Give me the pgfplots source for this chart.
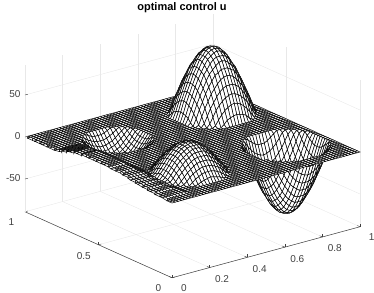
\documentclass[border=0pt]{standalone}
\usepackage{pgfplots}
\pgfplotsset{compat=1.18}
\usepackage{fontspec}
\setmainfont{Liberation Sans}
\definecolor{axg}{gray}{0.25}
\begin{document}
\begin{tikzpicture}
\useasboundingbox (-172bp,-90bp) rectangle (202bp,203bp);
\begin{axis}[at={(0bp,0bp)},anchor=origin,
  x={(188bp,51bp)},y={(-147bp,66bp)},z={(0bp,0.84bp)},
  xmin=0,xmax=1,ymin=0,ymax=1,zmin=-89,zmax=86,
  xtick={0,0.2,0.4,0.6,0.8,1},ytick={0,0.5,1},ztick={-50,0,50},
  axis x line*=bottom,axis y line*=left,axis z line*=left,
  clip=false,
  grid=major,
  grid style={line width=0.4pt,gray!18},
  axis line style={line width=0.5pt,axg},
  tick style={line width=0.4pt,axg},
  major tick length=3bp,
  tick label style={font=\fontsize{10bp}{12bp}\selectfont,text=axg,/pgf/number format/assume math mode=true},
  x tick label style={xshift=7bp,yshift=-3bp},
  y tick label style={xshift=-8bp,yshift=-3bp},
  z tick label style={xshift=-1bp},
  colormap={bw}{color=(white) color=(white)},
]
\addplot3[surf,shader=faceted,faceted color=black,line width=0.5pt,mesh/rows=61,mesh/cols=61,mesh/check=false,z buffer=reverse xy seq,skip coords between index={3721}{3800}]
 table[row sep=\\,header=false,x expr={mod(\coordindex,61)/60},y expr={floor(\coordindex/61)/60},z index=0]{
0\\0\\0\\0\\0\\0\\0\\0\\0\\0\\0\\0\\0\\0\\0\\0\\0\\0\\0\\0\\0\\0\\0\\0\\0\\0\\0\\0\\0\\0\\0\\0\\0\\0\\0\\0\\0\\0\\0\\0\\0\\0\\0\\0\\0\\0\\0\\0\\0\\0\\0\\0\\0\\0\\0\\0\\0\\0\\0\\0\\0\\
0\\0\\0\\0\\0\\0\\0\\0\\0\\0\\0\\0\\0\\0\\0\\0\\0\\0\\0\\0\\0\\0\\0\\0\\0\\0\\0\\0\\0\\0\\0\\0\\0\\0\\0\\0\\0\\0\\0\\0\\0\\0\\0\\0\\0\\0\\0\\0\\0\\0\\0\\0\\0\\0\\0\\0\\0\\0\\0\\0\\0\\
0\\0\\0\\0\\0\\0\\0\\0\\0\\0\\0\\0\\0\\0\\0\\0\\0\\0\\0\\0\\0\\0\\0\\0\\0\\0\\0\\0\\0\\0\\0\\0\\0\\0\\0\\0\\0\\0\\0\\0\\0\\0\\0\\0\\0\\0\\0\\0\\0\\0\\0\\0\\0\\0\\0\\0\\0\\0\\0\\0\\0\\
0\\0\\0\\0\\0\\0\\0\\0\\0\\0\\0\\0\\0\\0\\0\\0\\0\\0\\0\\0\\0\\0\\0\\0\\0\\0\\0\\0\\0\\0\\0\\0\\0\\0\\0\\0\\0\\0\\0\\0\\0\\0\\0\\0\\0\\0\\0\\0\\0\\0\\0\\0\\0\\0\\0\\0\\0\\0\\0\\0\\0\\
1\\1\\1\\1\\1\\1\\1\\1\\0\\0\\0\\0\\0\\0\\0\\0\\0\\0\\0\\0\\0\\0\\0\\0\\0\\0\\0\\0\\0\\0\\0\\0\\0\\0\\0\\0\\0\\0\\0\\0\\0\\0\\0\\0\\0\\0\\0\\0\\0\\0\\0\\0\\0\\0\\0\\0\\0\\0\\0\\0\\0\\
1\\1\\1\\1\\1\\1\\1\\1\\0\\0\\0\\0\\0\\0\\0\\0\\0\\0\\0\\0\\0\\0\\0\\0\\0\\0\\0\\0\\0\\0\\0\\0\\0\\0\\0\\0\\0\\0\\0\\0\\0\\0\\0\\0\\-3\\-6\\-9\\-11\\-11\\-11\\-9\\-6\\-3\\0\\0\\0\\0\\0\\0\\0\\0\\
1\\1\\1\\1\\1\\1\\1\\1\\0\\0\\0\\0\\0\\1\\3\\4\\5\\6\\5\\4\\3\\1\\0\\0\\0\\0\\0\\0\\0\\0\\0\\0\\0\\0\\0\\0\\0\\0\\0\\0\\0\\0\\-2\\-8\\-13\\-17\\-20\\-22\\-23\\-22\\-20\\-17\\-13\\-8\\-2\\0\\0\\0\\0\\0\\0\\
1\\1\\1\\1\\1\\1\\1\\1\\0\\0\\0\\0\\3\\6\\8\\10\\11\\11\\11\\10\\8\\6\\3\\0\\0\\0\\0\\0\\0\\0\\0\\0\\0\\0\\0\\0\\0\\0\\0\\0\\0\\-4\\-11\\-18\\-23\\-28\\-31\\-33\\-33\\-33\\-31\\-28\\-23\\-18\\-11\\-4\\0\\0\\0\\0\\0\\
2\\2\\2\\2\\2\\2\\2\\1\\0\\0\\1\\4\\8\\11\\13\\15\\16\\16\\16\\15\\13\\11\\8\\4\\1\\0\\0\\0\\0\\0\\0\\0\\0\\0\\0\\0\\0\\0\\0\\0\\-4\\-12\\-20\\-27\\-33\\-37\\-40\\-43\\-43\\-43\\-40\\-37\\-33\\-27\\-20\\-12\\-4\\0\\0\\0\\0\\
2\\2\\2\\2\\2\\2\\2\\1\\0\\0\\4\\8\\12\\15\\18\\20\\21\\21\\21\\20\\18\\15\\12\\8\\4\\0\\0\\0\\0\\0\\0\\0\\0\\0\\0\\0\\0\\0\\0\\-2\\-11\\-20\\-28\\-35\\-41\\-46\\-50\\-52\\-52\\-52\\-50\\-46\\-41\\-35\\-28\\-20\\-11\\-2\\0\\0\\0\\
2\\2\\2\\2\\2\\2\\2\\1\\0\\3\\8\\12\\16\\19\\22\\24\\25\\25\\25\\24\\22\\19\\16\\12\\8\\3\\0\\0\\0\\0\\0\\0\\0\\0\\0\\0\\0\\0\\0\\-8\\-18\\-27\\-35\\-43\\-49\\-54\\-57\\-60\\-60\\-60\\-57\\-54\\-49\\-43\\-35\\-27\\-18\\-8\\0\\0\\0\\
3\\3\\3\\3\\3\\3\\2\\2\\2\\6\\11\\15\\19\\23\\25\\28\\29\\29\\29\\28\\25\\23\\19\\15\\11\\6\\1\\0\\0\\0\\0\\0\\0\\0\\0\\0\\0\\0\\-3\\-13\\-23\\-33\\-41\\-49\\-55\\-60\\-64\\-67\\-67\\-67\\-64\\-60\\-55\\-49\\-41\\-33\\-23\\-13\\-3\\0\\0\\
3\\3\\3\\3\\3\\3\\2\\2\\4\\8\\13\\18\\22\\25\\28\\30\\32\\32\\32\\30\\28\\25\\22\\18\\13\\8\\3\\0\\0\\0\\0\\0\\0\\0\\0\\0\\0\\0\\-6\\-17\\-28\\-37\\-46\\-54\\-60\\-66\\-70\\-72\\-73\\-72\\-70\\-66\\-60\\-54\\-46\\-37\\-28\\-17\\-6\\0\\0\\
3\\3\\3\\3\\3\\3\\2\\2\\5\\10\\15\\20\\24\\28\\30\\33\\34\\34\\34\\33\\30\\28\\24\\20\\15\\10\\4\\0\\0\\0\\0\\0\\0\\0\\0\\0\\0\\0\\-9\\-20\\-31\\-40\\-50\\-57\\-64\\-70\\-74\\-76\\-77\\-76\\-74\\-70\\-64\\-57\\-50\\-40\\-31\\-20\\-9\\0\\0\\
4\\4\\4\\4\\4\\4\\3\\2\\6\\11\\16\\21\\25\\29\\32\\34\\35\\36\\35\\34\\32\\29\\25\\21\\16\\11\\5\\0\\0\\0\\0\\0\\0\\0\\0\\0\\0\\0\\-11\\-22\\-33\\-43\\-52\\-60\\-67\\-72\\-76\\-78\\-79\\-78\\-76\\-72\\-67\\-60\\-52\\-43\\-33\\-22\\-11\\0\\0\\
4\\4\\4\\4\\4\\4\\3\\2\\7\\11\\16\\21\\25\\29\\32\\34\\36\\36\\36\\34\\32\\29\\25\\21\\16\\11\\6\\0\\0\\0\\0\\0\\0\\0\\0\\0\\0\\0\\-11\\-23\\-33\\-43\\-52\\-60\\-67\\-73\\-77\\-79\\-80\\-79\\-77\\-73\\-67\\-60\\-52\\-43\\-33\\-23\\-11\\0\\0\\
5\\5\\5\\5\\5\\5\\4\\3\\6\\11\\16\\21\\25\\29\\32\\34\\35\\36\\35\\34\\32\\29\\25\\21\\16\\11\\5\\0\\0\\0\\0\\0\\0\\0\\0\\0\\0\\0\\-11\\-22\\-33\\-43\\-52\\-60\\-67\\-72\\-76\\-78\\-79\\-78\\-76\\-72\\-67\\-60\\-52\\-43\\-33\\-22\\-11\\0\\0\\
5\\5\\5\\5\\5\\5\\4\\3\\5\\10\\15\\20\\24\\28\\30\\33\\34\\34\\34\\33\\30\\28\\24\\20\\15\\10\\4\\0\\0\\0\\0\\0\\0\\0\\0\\0\\0\\0\\-9\\-20\\-31\\-40\\-50\\-57\\-64\\-70\\-74\\-76\\-77\\-76\\-74\\-70\\-64\\-57\\-50\\-40\\-31\\-20\\-9\\0\\0\\
6\\6\\6\\6\\6\\6\\5\\3\\4\\8\\13\\18\\22\\25\\28\\30\\32\\32\\32\\30\\28\\25\\22\\18\\13\\8\\3\\0\\0\\0\\0\\0\\0\\0\\0\\0\\0\\0\\-6\\-17\\-28\\-37\\-46\\-54\\-60\\-66\\-70\\-72\\-73\\-72\\-70\\-66\\-60\\-54\\-46\\-37\\-28\\-17\\-6\\0\\0\\
7\\7\\7\\7\\7\\7\\6\\4\\2\\6\\11\\15\\19\\23\\25\\28\\29\\29\\29\\28\\25\\23\\19\\15\\11\\6\\1\\0\\0\\0\\0\\0\\0\\0\\0\\0\\0\\0\\-3\\-13\\-23\\-33\\-41\\-49\\-55\\-60\\-64\\-67\\-67\\-67\\-64\\-60\\-55\\-49\\-41\\-33\\-23\\-13\\-3\\0\\0\\
7\\7\\7\\7\\7\\7\\6\\4\\1\\3\\8\\12\\16\\19\\22\\24\\25\\25\\25\\24\\22\\19\\16\\12\\8\\3\\0\\0\\0\\0\\0\\0\\0\\0\\0\\0\\0\\0\\0\\-8\\-18\\-27\\-35\\-43\\-49\\-54\\-57\\-60\\-60\\-60\\-57\\-54\\-49\\-43\\-35\\-27\\-18\\-8\\0\\0\\0\\
7\\7\\7\\7\\7\\7\\6\\4\\1\\0\\4\\8\\12\\15\\18\\20\\21\\21\\21\\20\\18\\15\\12\\8\\4\\0\\0\\0\\0\\0\\0\\0\\0\\0\\0\\0\\0\\0\\0\\-2\\-11\\-20\\-28\\-35\\-41\\-46\\-50\\-52\\-52\\-52\\-50\\-46\\-41\\-35\\-28\\-20\\-11\\-2\\0\\0\\0\\
8\\8\\8\\8\\8\\8\\6\\4\\2\\0\\1\\4\\8\\11\\13\\15\\16\\16\\16\\15\\13\\11\\8\\4\\1\\0\\0\\0\\0\\0\\0\\0\\0\\0\\0\\0\\0\\0\\0\\0\\-4\\-12\\-20\\-27\\-33\\-37\\-40\\-43\\-43\\-43\\-40\\-37\\-33\\-27\\-20\\-12\\-4\\0\\0\\0\\0\\
8\\8\\8\\8\\8\\8\\6\\4\\2\\0\\0\\0\\3\\6\\8\\10\\11\\11\\11\\10\\8\\6\\3\\0\\0\\0\\0\\0\\0\\0\\0\\0\\0\\0\\0\\0\\0\\0\\0\\0\\0\\-4\\-11\\-18\\-23\\-28\\-31\\-33\\-33\\-33\\-31\\-28\\-23\\-18\\-11\\-4\\0\\0\\0\\0\\0\\
8\\8\\8\\8\\8\\8\\6\\4\\2\\0\\0\\0\\0\\1\\3\\4\\5\\6\\5\\4\\3\\1\\0\\0\\0\\0\\0\\0\\0\\0\\0\\0\\0\\0\\0\\0\\0\\0\\0\\0\\0\\0\\-2\\-8\\-13\\-17\\-20\\-22\\-23\\-22\\-20\\-17\\-13\\-8\\-2\\0\\0\\0\\0\\0\\0\\
8\\8\\8\\8\\8\\8\\6\\4\\2\\0\\0\\0\\0\\0\\0\\0\\0\\0\\0\\0\\0\\0\\0\\0\\0\\0\\0\\0\\0\\0\\0\\0\\0\\0\\0\\0\\0\\0\\0\\0\\0\\0\\0\\0\\-3\\-6\\-9\\-11\\-11\\-11\\-9\\-6\\-3\\0\\0\\0\\0\\0\\0\\0\\0\\
9\\9\\9\\9\\9\\9\\7\\5\\2\\0\\0\\0\\0\\0\\0\\0\\0\\0\\0\\0\\0\\0\\0\\0\\0\\0\\0\\0\\0\\0\\0\\0\\0\\0\\0\\0\\0\\0\\0\\0\\0\\0\\0\\0\\0\\0\\0\\0\\0\\0\\0\\0\\0\\0\\0\\0\\0\\0\\0\\0\\0\\
9\\9\\9\\9\\9\\9\\7\\5\\2\\0\\0\\0\\0\\0\\0\\0\\0\\0\\0\\0\\0\\0\\0\\0\\0\\0\\0\\0\\0\\0\\0\\0\\0\\0\\0\\0\\0\\0\\0\\0\\0\\0\\0\\0\\0\\0\\0\\0\\0\\0\\0\\0\\0\\0\\0\\0\\0\\0\\0\\0\\0\\
9\\9\\9\\9\\9\\9\\7\\5\\2\\0\\0\\0\\0\\0\\0\\0\\0\\0\\0\\0\\0\\0\\0\\0\\0\\0\\0\\0\\0\\0\\0\\0\\0\\0\\0\\0\\0\\0\\0\\0\\0\\0\\0\\0\\0\\0\\0\\0\\0\\0\\0\\0\\0\\0\\0\\0\\0\\0\\0\\0\\0\\
9\\9\\9\\9\\9\\9\\7\\5\\2\\0\\0\\0\\0\\0\\0\\0\\0\\0\\0\\0\\0\\0\\0\\0\\0\\0\\0\\0\\0\\0\\0\\0\\0\\0\\0\\0\\0\\0\\0\\0\\0\\0\\0\\0\\0\\0\\0\\0\\0\\0\\0\\0\\0\\0\\0\\0\\0\\0\\0\\0\\0\\
9\\9\\9\\9\\9\\9\\7\\5\\2\\0\\0\\0\\0\\0\\0\\0\\0\\0\\0\\0\\0\\0\\0\\0\\0\\0\\0\\0\\0\\0\\0\\0\\0\\0\\0\\0\\0\\0\\0\\0\\0\\0\\0\\0\\0\\0\\0\\0\\0\\0\\0\\0\\0\\0\\0\\0\\0\\0\\0\\0\\0\\
9\\9\\9\\9\\9\\9\\7\\5\\2\\0\\0\\0\\0\\0\\0\\0\\0\\0\\0\\0\\0\\0\\0\\0\\0\\0\\0\\0\\0\\0\\0\\0\\0\\0\\0\\0\\0\\0\\0\\0\\0\\0\\0\\0\\0\\0\\0\\0\\0\\0\\0\\0\\0\\0\\0\\0\\0\\0\\0\\0\\0\\
9\\9\\9\\9\\9\\9\\7\\5\\2\\0\\0\\0\\0\\0\\0\\0\\0\\0\\0\\0\\0\\0\\0\\0\\0\\0\\0\\0\\0\\0\\0\\0\\0\\0\\0\\0\\0\\0\\0\\0\\0\\0\\0\\0\\0\\0\\0\\0\\0\\0\\0\\0\\0\\0\\0\\0\\0\\0\\0\\0\\0\\
9\\9\\9\\9\\9\\9\\7\\5\\2\\0\\0\\0\\0\\0\\0\\0\\0\\0\\0\\0\\0\\0\\0\\0\\0\\0\\0\\0\\0\\0\\0\\0\\0\\0\\0\\0\\0\\0\\0\\0\\0\\0\\0\\0\\0\\0\\0\\0\\0\\0\\0\\0\\0\\0\\0\\0\\0\\0\\0\\0\\0\\
9\\9\\9\\9\\9\\9\\7\\5\\2\\0\\0\\0\\0\\0\\0\\0\\0\\0\\0\\0\\0\\0\\0\\0\\0\\0\\0\\0\\0\\0\\0\\0\\0\\0\\0\\0\\0\\0\\0\\0\\0\\0\\0\\0\\0\\0\\0\\0\\0\\0\\0\\0\\0\\0\\0\\0\\0\\0\\0\\0\\0\\
9\\9\\9\\9\\9\\9\\7\\5\\2\\0\\0\\0\\0\\0\\0\\0\\0\\0\\0\\0\\0\\0\\0\\0\\0\\0\\0\\0\\0\\0\\0\\0\\0\\0\\0\\0\\0\\0\\0\\0\\0\\0\\0\\0\\3\\7\\9\\10\\11\\10\\9\\7\\3\\0\\0\\0\\0\\0\\0\\0\\0\\
9\\9\\9\\9\\9\\9\\7\\5\\2\\0\\0\\0\\0\\0\\-2\\-4\\-5\\-5\\-5\\-4\\-2\\0\\0\\0\\0\\0\\0\\0\\0\\0\\0\\0\\0\\0\\0\\0\\0\\0\\0\\0\\0\\0\\2\\8\\13\\17\\20\\22\\23\\22\\20\\17\\13\\8\\2\\0\\0\\0\\0\\0\\0\\
9\\9\\9\\9\\9\\9\\7\\5\\2\\0\\0\\0\\-2\\-5\\-7\\-9\\-10\\-10\\-10\\-9\\-7\\-5\\-2\\0\\0\\0\\0\\0\\0\\0\\0\\0\\0\\0\\0\\0\\0\\0\\0\\0\\0\\4\\11\\18\\23\\27\\30\\32\\33\\32\\30\\27\\23\\18\\11\\4\\0\\0\\0\\0\\0\\
8\\8\\8\\8\\8\\8\\6\\4\\2\\0\\0\\-3\\-6\\-9\\-12\\-13\\-15\\-15\\-15\\-13\\-12\\-9\\-6\\-3\\0\\0\\0\\0\\0\\0\\0\\0\\0\\0\\0\\0\\0\\0\\0\\0\\4\\12\\20\\26\\32\\37\\40\\42\\42\\42\\40\\37\\32\\26\\20\\12\\4\\0\\0\\0\\0\\
8\\8\\8\\8\\8\\8\\6\\4\\2\\0\\-2\\-6\\-10\\-13\\-16\\-17\\-19\\-19\\-19\\-17\\-16\\-13\\-10\\-6\\-2\\0\\0\\0\\0\\0\\0\\0\\0\\0\\0\\0\\0\\0\\0\\2\\11\\20\\27\\35\\40\\45\\49\\51\\52\\51\\49\\45\\40\\35\\27\\20\\11\\2\\0\\0\\0\\
8\\8\\8\\8\\8\\8\\6\\4\\2\\0\\-5\\-9\\-13\\-17\\-19\\-21\\-22\\-23\\-22\\-21\\-19\\-17\\-13\\-9\\-5\\0\\0\\0\\0\\0\\0\\0\\0\\0\\0\\0\\0\\0\\0\\8\\18\\26\\35\\42\\48\\54\\56\\59\\59\\59\\56\\54\\48\\42\\35\\26\\18\\8\\0\\0\\0\\
7\\7\\7\\7\\7\\7\\6\\4\\1\\-2\\-7\\-12\\-16\\-19\\-22\\-24\\-25\\-26\\-25\\-24\\-22\\-19\\-16\\-12\\-7\\-2\\0\\0\\0\\0\\0\\0\\0\\0\\0\\0\\0\\0\\3\\13\\23\\32\\40\\48\\55\\59\\63\\66\\67\\66\\63\\59\\55\\48\\40\\32\\23\\13\\3\\0\\0\\
6\\6\\6\\6\\6\\6\\5\\3\\1\\-4\\-9\\-13\\-17\\-21\\-24\\-26\\-28\\-28\\-28\\-26\\-24\\-21\\-17\\-13\\-9\\-4\\0\\0\\0\\0\\0\\0\\0\\0\\0\\0\\0\\0\\7\\17\\27\\37\\45\\54\\59\\65\\69\\71\\71\\71\\69\\65\\59\\54\\45\\37\\27\\17\\7\\0\\0\\
5\\5\\5\\5\\5\\5\\4\\3\\1\\-5\\-10\\-15\\-19\\-22\\-25\\-28\\-29\\-30\\-29\\-28\\-25\\-22\\-19\\-15\\-10\\-5\\0\\0\\0\\0\\0\\0\\0\\0\\0\\0\\0\\0\\9\\20\\30\\40\\49\\56\\63\\69\\72\\75\\76\\75\\72\\69\\63\\56\\49\\40\\30\\20\\9\\0\\0\\
4\\4\\4\\4\\4\\4\\3\\2\\1\\-5\\-10\\-15\\-19\\-23\\-26\\-28\\-30\\-30\\-30\\-28\\-26\\-23\\-19\\-15\\-10\\-5\\0\\0\\0\\0\\0\\0\\0\\0\\0\\0\\0\\0\\10\\22\\32\\42\\51\\59\\66\\71\\75\\77\\78\\77\\75\\71\\66\\59\\51\\42\\32\\22\\10\\0\\0\\
3\\3\\3\\3\\3\\3\\2\\2\\1\\-5\\-10\\-15\\-19\\-22\\-25\\-28\\-29\\-30\\-29\\-28\\-25\\-22\\-19\\-15\\-10\\-5\\0\\0\\0\\0\\0\\0\\0\\0\\0\\0\\0\\0\\11\\23\\33\\42\\52\\59\\67\\71\\76\\78\\79\\78\\76\\71\\67\\59\\52\\42\\33\\23\\11\\0\\0\\
2\\2\\2\\2\\2\\2\\2\\1\\0\\-4\\-9\\-13\\-17\\-21\\-24\\-26\\-28\\-28\\-28\\-26\\-24\\-21\\-17\\-13\\-9\\-4\\0\\0\\0\\0\\0\\0\\0\\0\\0\\0\\0\\0\\10\\22\\32\\42\\51\\59\\66\\71\\75\\77\\78\\77\\75\\71\\66\\59\\51\\42\\32\\22\\10\\0\\0\\
1\\1\\1\\1\\1\\1\\1\\1\\0\\-2\\-7\\-12\\-16\\-19\\-22\\-24\\-25\\-26\\-25\\-24\\-22\\-19\\-16\\-12\\-7\\-2\\0\\0\\0\\0\\0\\0\\0\\0\\0\\0\\0\\0\\9\\20\\30\\40\\49\\56\\63\\69\\72\\75\\76\\75\\72\\69\\63\\56\\49\\40\\30\\20\\9\\0\\0\\
0\\0\\0\\0\\0\\0\\0\\0\\0\\0\\-5\\-9\\-13\\-17\\-19\\-21\\-22\\-23\\-22\\-21\\-19\\-17\\-13\\-9\\-5\\0\\0\\0\\0\\0\\0\\0\\0\\0\\0\\0\\0\\0\\7\\17\\27\\37\\45\\54\\59\\65\\69\\71\\71\\71\\69\\65\\59\\54\\45\\37\\27\\17\\7\\0\\0\\
0\\0\\0\\0\\0\\0\\0\\0\\0\\0\\-2\\-6\\-10\\-13\\-16\\-17\\-19\\-19\\-19\\-17\\-16\\-13\\-10\\-6\\-2\\0\\0\\0\\0\\0\\0\\0\\0\\0\\0\\0\\0\\0\\3\\13\\23\\32\\40\\48\\55\\59\\63\\66\\67\\66\\63\\59\\55\\48\\40\\32\\23\\13\\3\\0\\0\\
0\\0\\0\\0\\0\\0\\0\\0\\0\\0\\0\\-3\\-6\\-9\\-12\\-13\\-15\\-15\\-15\\-13\\-12\\-9\\-6\\-3\\0\\0\\0\\0\\0\\0\\0\\0\\0\\0\\0\\0\\0\\0\\0\\8\\18\\26\\35\\42\\48\\54\\56\\59\\59\\59\\56\\54\\48\\42\\35\\26\\18\\8\\0\\0\\0\\
0\\0\\0\\0\\0\\0\\0\\0\\0\\0\\0\\0\\-2\\-5\\-7\\-9\\-10\\-10\\-10\\-9\\-7\\-5\\-2\\0\\0\\0\\0\\0\\0\\0\\0\\0\\0\\0\\0\\0\\0\\0\\0\\2\\11\\20\\27\\35\\40\\45\\49\\51\\52\\51\\49\\45\\40\\35\\27\\20\\11\\2\\0\\0\\0\\
0\\0\\0\\0\\0\\0\\0\\0\\0\\0\\0\\0\\0\\0\\-2\\-4\\-5\\-5\\-5\\-4\\-2\\0\\0\\0\\0\\0\\0\\0\\0\\0\\0\\0\\0\\0\\0\\0\\0\\0\\0\\0\\0\\4\\12\\20\\26\\32\\37\\40\\42\\42\\42\\40\\37\\32\\26\\20\\12\\4\\0\\0\\0\\0\\
0\\0\\0\\0\\0\\0\\0\\0\\0\\0\\0\\0\\0\\0\\0\\0\\0\\0\\0\\0\\0\\0\\0\\0\\0\\0\\0\\0\\0\\0\\0\\0\\0\\0\\0\\0\\0\\0\\0\\0\\0\\4\\11\\18\\23\\27\\30\\32\\33\\32\\30\\27\\23\\18\\11\\4\\0\\0\\0\\0\\0\\
0\\0\\0\\0\\0\\0\\0\\0\\0\\0\\0\\0\\0\\0\\0\\0\\0\\0\\0\\0\\0\\0\\0\\0\\0\\0\\0\\0\\0\\0\\0\\0\\0\\0\\0\\0\\0\\0\\0\\0\\0\\0\\2\\8\\13\\17\\20\\22\\23\\22\\20\\17\\13\\8\\2\\0\\0\\0\\0\\0\\0\\
0\\0\\0\\0\\0\\0\\0\\0\\0\\0\\0\\0\\0\\0\\0\\0\\0\\0\\0\\0\\0\\0\\0\\0\\0\\0\\0\\0\\0\\0\\0\\0\\0\\0\\0\\0\\0\\0\\0\\0\\0\\0\\0\\0\\3\\7\\9\\10\\11\\10\\9\\7\\3\\0\\0\\0\\0\\0\\0\\0\\0\\
0\\0\\0\\0\\0\\0\\0\\0\\0\\0\\0\\0\\0\\0\\0\\0\\0\\0\\0\\0\\0\\0\\0\\0\\0\\0\\0\\0\\0\\0\\0\\0\\0\\0\\0\\0\\0\\0\\0\\0\\0\\0\\0\\0\\0\\0\\0\\0\\0\\0\\0\\0\\0\\0\\0\\0\\0\\0\\0\\0\\0\\
0\\0\\0\\0\\0\\0\\0\\0\\0\\0\\0\\0\\0\\0\\0\\0\\0\\0\\0\\0\\0\\0\\0\\0\\0\\0\\0\\0\\0\\0\\0\\0\\0\\0\\0\\0\\0\\0\\0\\0\\0\\0\\0\\0\\0\\0\\0\\0\\0\\0\\0\\0\\0\\0\\0\\0\\0\\0\\0\\0\\0\\
0\\0\\0\\0\\0\\0\\0\\0\\0\\0\\0\\0\\0\\0\\0\\0\\0\\0\\0\\0\\0\\0\\0\\0\\0\\0\\0\\0\\0\\0\\0\\0\\0\\0\\0\\0\\0\\0\\0\\0\\0\\0\\0\\0\\0\\0\\0\\0\\0\\0\\0\\0\\0\\0\\0\\0\\0\\0\\0\\0\\0\\
0\\0\\0\\0\\0\\0\\0\\0\\0\\0\\0\\0\\0\\0\\0\\0\\0\\0\\0\\0\\0\\0\\0\\0\\0\\0\\0\\0\\0\\0\\0\\0\\0\\0\\0\\0\\0\\0\\0\\0\\0\\0\\0\\0\\0\\0\\0\\0\\0\\0\\0\\0\\0\\0\\0\\0\\0\\0\\0\\0\\0\\
0\\0\\0\\0\\0\\0\\0\\0\\0\\0\\0\\0\\0\\0\\0\\0\\0\\0\\0\\0\\0\\0\\0\\0\\0\\0\\0\\0\\0\\0\\0\\0\\0\\0\\0\\0\\0\\0\\0\\0\\0\\0\\0\\0\\0\\0\\0\\0\\0\\0\\0\\0\\0\\0\\0\\0\\0\\0\\0\\0\\0\\
};
\end{axis}
\node[font=\fontsize{11bp}{13bp}\selectfont\bfseries] at (10bp,195.5bp) {optimal control u};
\end{tikzpicture}
\end{document}
